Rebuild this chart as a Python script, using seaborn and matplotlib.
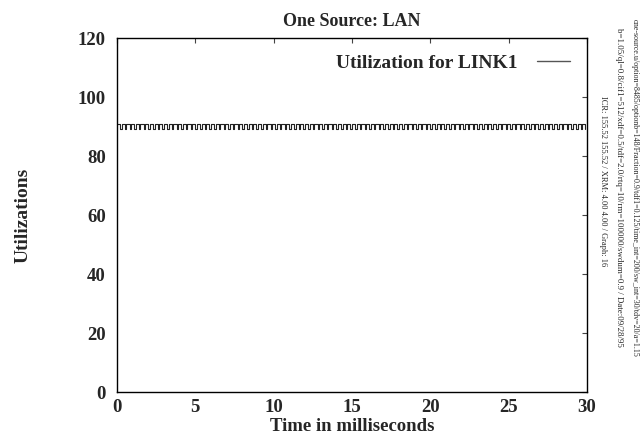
import numpy as np
import pandas as pd
import matplotlib
matplotlib.use("Agg")
import matplotlib.pyplot as plt
import seaborn as sns

# link utilization, sampled every 0.1 ms (10 periods per row)
sample_ms = 0.1
util_link1 = [
    91, 91, 89, 91, 91, 89, 91, 91, 89, 91, 91, 89, 91, 91, 89, 91, 91, 89, 91, 91, 89, 91, 91, 89, 91, 91, 89, 91, 91, 89,
    91, 91, 89, 91, 91, 89, 91, 91, 89, 91, 91, 89, 91, 91, 89, 91, 91, 89, 91, 91, 89, 91, 91, 89, 91, 91, 89, 91, 91, 89,
    91, 91, 89, 91, 91, 89, 91, 91, 89, 91, 91, 89, 91, 91, 89, 91, 91, 89, 91, 91, 89, 91, 91, 89, 91, 91, 89, 91, 91, 89,
    91, 91, 89, 91, 91, 89, 91, 91, 89, 91, 91, 89, 91, 91, 89, 91, 91, 89, 91, 91, 89, 91, 91, 89, 91, 91, 89, 91, 91, 89,
    91, 91, 89, 91, 91, 89, 91, 91, 89, 91, 91, 89, 91, 91, 89, 91, 91, 89, 91, 91, 89, 91, 91, 89, 91, 91, 89, 91, 91, 89,
    91, 91, 89, 91, 91, 89, 91, 91, 89, 91, 91, 89, 91, 91, 89, 91, 91, 89, 91, 91, 89, 91, 91, 89, 91, 91, 89, 91, 91, 89,
    91, 91, 89, 91, 91, 89, 91, 91, 89, 91, 91, 89, 91, 91, 89, 91, 91, 89, 91, 91, 89, 91, 91, 89, 91, 91, 89, 91, 91, 89,
    91, 91, 89, 91, 91, 89, 91, 91, 89, 91, 91, 89, 91, 91, 89, 91, 91, 89, 91, 91, 89, 91, 91, 89, 91, 91, 89, 91, 91, 89,
    91, 91, 89, 91, 91, 89, 91, 91, 89, 91, 91, 89, 91, 91, 89, 91, 91, 89, 91, 91, 89, 91, 91, 89, 91, 91, 89, 91, 91, 89,
    91, 91, 89, 91, 91, 89, 91, 91, 89, 91, 91, 89, 91, 91, 89, 91, 91, 89, 91, 91, 89, 91, 91, 89, 91, 91, 89, 91, 91, 89,
]
x_ticks = [0, 5, 10, 15, 20, 25, 30]
y_ticks = [0, 20, 40, 60, 80, 100, 120]

side_notes = [
    "one-source.u/option=8485/optionb=148/Fraction=0.9/tdf1=0.125/time_int=200/sw_int=30/tdv=20/a=1.15",
    "b=1.05/ql=0.8/cif1=512/xdf=0.5/tdf=2.0/rtq=10/rm=100000/swdum=0.9 / Date:09/28/95",
    "ICR: 155.52 155.52 / XRM: 4.00 4.00 / Graph: 16",
]

df = pd.DataFrame({"time": np.round(np.arange(len(util_link1)) * sample_ms, 2),
                   "util": util_link1})

sns.set_style("white")
plt.rcParams["font.family"] = ["Liberation Serif", "DejaVu Serif"]

fig = plt.figure(figsize=(6.41, 4.44), dpi=100)
# plot box: x 117..587 px, y 38..392 px
ax = fig.add_axes([0.1825, 0.1171, 0.7332, 0.7973])

sns.lineplot(data=df, x="time", y="util", ax=ax, color="#222222", linewidth=0.8,
             drawstyle="steps-post", legend=False)

ax.set_xlim(0, 30)
ax.set_ylim(0, 120)
ax.set_xticks(x_ticks)
ax.set_yticks(y_ticks)
ax.tick_params(direction="in", length=3.6, width=0.8, top=True, right=True,
               labelsize=13.5, color="#444444")
ax.tick_params(axis="x", pad=5)
ax.tick_params(axis="y", pad=8)
for lab in ax.get_xticklabels() + ax.get_yticklabels():
    lab.set_fontweight("bold")
for sp in ax.spines.values():
    sp.set_linewidth(1.0)
    sp.set_color("black")

ax.set_title("One Source: LAN", fontsize=13, fontweight="bold", pad=9)
ax.set_xlabel("Time in milliseconds", fontsize=13.5, fontweight="bold")
ax.set_ylabel("Utilizations", fontsize=14, fontweight="bold")
ax.xaxis.set_label_coords(0.5, -0.074)
ax.yaxis.set_label_coords(-0.181, 0.5)

# legend entry drawn gnuplot style: text then line sample
ax.plot([], [], color="#555555", linewidth=1.0, label="Utilization for LINK1")
handles, labels = ax.get_legend_handles_labels()
ax.legend(handles[-1:], labels[-1:], loc="center right",
          bbox_to_anchor=(0.980, 0.929), frameon=False,
          markerfirst=False, handlelength=1.7, borderaxespad=0,
          handletextpad=1.0, prop={"weight": "bold", "size": 14})

xs = [0.990, 0.9657, 0.9407]
ys = [0.196, 0.2185, 0.592]
vas = ["bottom", "bottom", "center"]
sizes = [5.8, 6.4, 6]
for note, xp, yp, va, fs in zip(side_notes, xs, ys, vas, sizes):
    fig.text(xp, yp, note, rotation=-90, fontsize=fs, ha="center", va=va)

plt.savefig("out.png", dpi=100)
